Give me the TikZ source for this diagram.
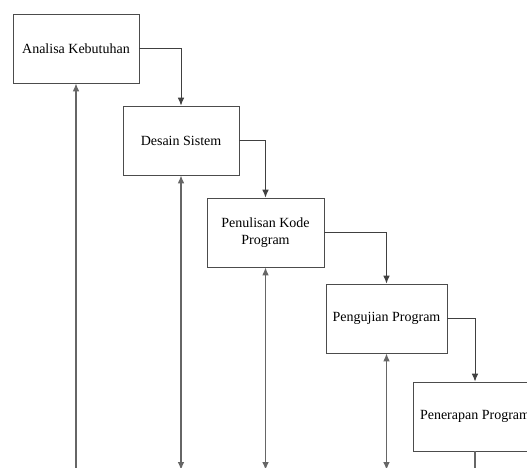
\documentclass[tikz,border=0pt]{standalone}
\usepackage{fontspec}
\setmainfont{Liberation Serif}
\usetikzlibrary{arrows.meta}

\tikzset{
  tahap/.style={draw=black!70, line width=0.6pt, fill=white, align=center,
    minimum height=51.75pt, inner sep=2pt, font=\fontsize{10.5}{13}\selectfont},
  alur/.style={draw=black!75, line width=0.75pt, -{Latex[length=6pt,width=5pt]}},
  balik/.style={draw=black!60, line width=0.9pt}
}

\begin{document}
\begin{tikzpicture}[x=0.75pt,y=-0.75pt]
        \useasboundingbox (0,0) rectangle (527,467);
        \clip (0,0) rectangle (527,467);
        % tahapan
        \node[tahap, minimum width=94.5pt] (analisa) at (76,48.5) {Analisa Kebutuhan};
        \node[tahap, minimum width=87pt] (desain) at (181,140.5) {Desain Sistem};
        \node[tahap, minimum width=87.75pt] (penulisan) at (265.5,232.5) {Penulisan Kode\\Program};
        \node[tahap, minimum width=90.75pt] (pengujian) at (386.5,318.5) {Pengujian Program};
        \node[tahap, minimum width=93pt] (penerapan) at (475,416.5) {Penerapan Program};
        % alur turun
        \draw[alur] (analisa.east) -| (desain.north);
        \draw[alur] (desain.east) -| (penulisan.north);
        \draw[alur] (penulisan.east) -| (pengujian.north);
        \draw[alur] (pengujian.east) -| (penerapan.north);
        % garis balik
        \foreach \n in {analisa,desain,penulisan,pengujian,penerapan}{
          \coordinate (\n-bawah) at (\n.south |- 0,470);}
        \draw[balik,-{Latex[length=6pt,width=5pt]}] (analisa-bawah) -- (analisa.south);
        \draw[balik,{Latex[length=6pt,width=5pt]}-{Latex[length=6pt,width=5pt]}] (desain.south) -- (desain-bawah);
        \draw[balik,{Latex[length=6pt,width=5pt]}-{Latex[length=6pt,width=5pt]}] (penulisan.south) -- (penulisan-bawah);
        \draw[balik,{Latex[length=6pt,width=5pt]}-{Latex[length=6pt,width=5pt]}] (pengujian.south) -- (pengujian-bawah);
        \draw[balik] (penerapan.south) -- (penerapan-bawah);
\end{tikzpicture}
\end{document}
